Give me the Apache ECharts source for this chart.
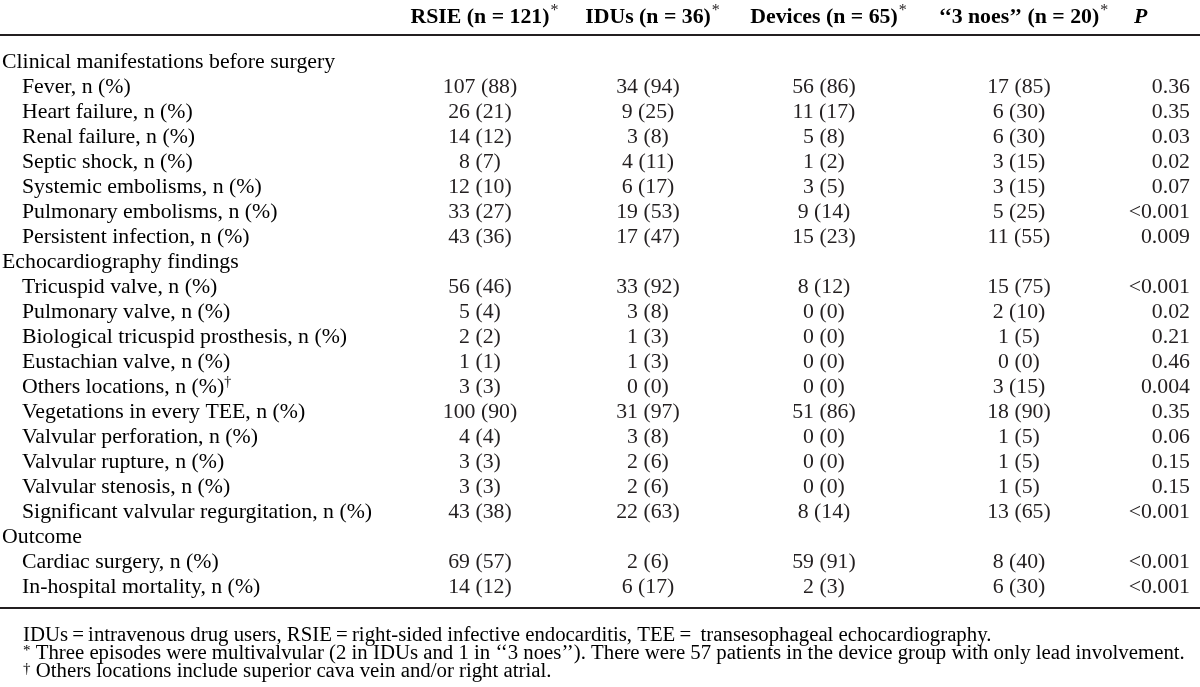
<!DOCTYPE html>
<html>
<head>
<meta charset="utf-8">
<script src="https://cdn.jsdelivr.net/npm/echarts@6/dist/echarts.min.js"></script>
<style>html,body{margin:0;padding:0;background:#fff;}#c{width:1200px;height:687px;}</style>
</head>
<body>
<div id="c"></div>
<script>
// ---- data ----
const headers = ['RSIE (n = 121)', 'IDUs (n = 36)', 'Devices (n = 65)', '\u2018\u20183 noes\u2019\u2019 (n = 20)'];
const pHeader = 'P';
const rowLabels = [
  'Clinical manifestations before surgery',
  'Fever, n (%)', 'Heart failure, n (%)', 'Renal failure, n (%)', 'Septic shock, n (%)',
  'Systemic embolisms, n (%)', 'Pulmonary embolisms, n (%)', 'Persistent infection, n (%)',
  'Echocardiography findings',
  'Tricuspid valve, n (%)', 'Pulmonary valve, n (%)', 'Biological tricuspid prosthesis, n (%)',
  'Eustachian valve, n (%)', 'Others locations, n (%)', 'Vegetations in every TEE, n (%)',
  'Valvular perforation, n (%)', 'Valvular rupture, n (%)', 'Valvular stenosis, n (%)',
  'Significant valvular regurgitation, n (%)',
  'Outcome',
  'Cardiac surgery, n (%)', 'In-hospital mortality, n (%)'
];
const rowMarks = ['', '', '', '', '', '', '', '', '', '', '', '', '', '\u2020', '', '', '', '', '', '', '', ''];
const rsieN   = [null,107,26,14,8,12,33,43,null,56,5,2,1,3,100,4,3,3,43,null,69,14];
const rsiePct = [null,88,21,12,7,10,27,36,null,46,4,2,1,3,90,4,3,3,38,null,57,12];
const idusN   = [null,34,9,3,4,6,19,17,null,33,3,1,1,0,31,3,2,2,22,null,2,6];
const idusPct = [null,94,25,8,11,17,53,47,null,92,8,3,3,0,97,8,6,6,63,null,6,17];
const devN    = [null,56,11,5,1,3,9,15,null,8,0,0,0,0,51,0,0,0,8,null,59,2];
const devPct  = [null,86,17,8,2,5,14,23,null,12,0,0,0,0,86,0,0,0,14,null,91,3];
const noesN   = [null,17,6,6,3,3,5,11,null,15,2,1,0,3,18,1,1,1,13,null,8,6];
const noesPct = [null,85,30,30,15,15,25,55,null,75,10,5,0,15,90,5,5,5,65,null,40,30];
const pValues = ['', '0.36','0.35','0.03','0.02','0.07','<0.001','0.009', '',
  '<0.001','0.02','0.21','0.46','0.004','0.35','0.06','0.15','0.15','<0.001', '',
  '<0.001','<0.001'];
const footnotes = [
  ['', 'IDUs\u2009=\u2009intravenous drug users, RSIE\u2009=\u2009right-sided infective endocarditis, TEE\u2009=\u2009 transesophageal echocardiography.'],
  ['*', 'Three episodes were multivalvular (2 in IDUs and 1 in \u2018\u20183 noes\u2019\u2019). There were 57 patients in the device group with only lead involvement.'],
  ['\u2020', 'Others locations include superior cava vein and/or right atrial.']
];

// ---- layout / style ----
const FONT = '"Liberation Serif", "Times New Roman", serif';
const INK = '#231f20';
const FS = 21.8;
const colX = [480, 648, 824, 1019];
const pRight = 1190;
const pHeaderX = 1134;
const sectionX = 2, itemX = 22;
const headerY = 17;
const topRuleY = 35, bottomRuleY = 608;
const footY = [636, 654, 672];
const FFS = 20.8;

const groups = [[rsieN, rsiePct], [idusN, idusPct], [devN, devPct], [noesN, noesPct]];
const data = rowLabels.map((l, i) => [0, i]);

const richBase = {
  a: { fontFamily: FONT, fontSize: FS, lineHeight: 24, color: INK },
  s: { fontFamily: FONT, fontSize: 14, lineHeight: 14, verticalAlign: 'top', color: INK }
};

function renderItem(params, api) {
  const i = api.value(1);
  const y = api.coord([0, i])[1];
  const children = [];
  const isSection = rsieN[i] === null;
  const lx = api.coord([isSection ? sectionX : itemX, i])[0];
  const mark = rowMarks[i];
  children.push({
    type: 'text',
    style: {
      x: lx, y: y,
      text: '{a|' + rowLabels[i] + '}' + (mark ? '{s|' + mark + '}' : ''),
      rich: richBase,
      align: 'left', verticalAlign: 'middle'
    }
  });
  if (!isSection) {
    groups.forEach((g, k) => {
      const x = api.coord([colX[k], i])[0];
      children.push({
        type: 'text',
        style: {
          x: x, y: y, text: g[0][i] + ' (' + g[1][i] + ')',
          font: FS + 'px ' + FONT, fill: INK,
          align: 'center', verticalAlign: 'middle'
        }
      });
    });
    children.push({
      type: 'text',
      style: {
        x: api.coord([pRight, i])[0], y: y, text: pValues[i],
        font: FS + 'px ' + FONT, fill: INK,
        align: 'right', verticalAlign: 'middle'
      }
    });
  }
  return { type: 'group', children: children };
}

const headRich = {
  b: { fontFamily: FONT, fontSize: FS, fontWeight: 'bold', lineHeight: 24, color: INK },
  p: { fontFamily: FONT, fontSize: FS, fontWeight: 'bold', fontStyle: 'italic', lineHeight: 24, color: INK }
};

const graphics = [];
headers.forEach((h, k) => {
  graphics.push({
    type: 'text', x: colX[k], y: headerY,
    style: { text: '{b|' + h + '}', rich: headRich, align: 'center', verticalAlign: 'middle' }
  });
});
graphics.push({
  type: 'text', x: pHeaderX, y: headerY,
  style: { text: '{p|' + pHeader + '}', rich: headRich, align: 'left', verticalAlign: 'middle' }
});
[topRuleY, bottomRuleY].forEach(yy => {
  graphics.push({ type: 'line', shape: { x1: 0, y1: yy, x2: 1200, y2: yy }, style: { stroke: INK, lineWidth: 2 } });
});
footnotes.forEach((f, k) => {
  graphics.push({
    type: 'text', x: 23, y: footY[k],
    style: {
      text: (f[0] ? '{s|' + f[0] + '}{f| ' + f[1] + '}' : '{f|' + f[1] + '}'),
      rich: {
        f: { fontFamily: FONT, fontSize: FFS, lineHeight: 21, color: INK },
        s: { fontFamily: FONT, fontSize: 15, lineHeight: 15, verticalAlign: 'top', color: INK }
      },
      align: 'left', verticalAlign: 'middle'
    }
  });
});

const chart = echarts.init(document.getElementById('c'), null, { renderer: 'canvas' });

// header asterisks: measure header width and append superscript star
function headerStars() {
  const out = [];
  const ctx = document.createElement('canvas').getContext('2d');
  ctx.font = 'bold ' + FS + 'px ' + FONT;
  headers.forEach((h, k) => {
    const w = ctx.measureText(h).width;
    out.push({
      type: 'text', x: colX[k] + w / 2 + 1, y: headerY - 6,
      style: { text: '*', font: '16px ' + FONT, fill: INK, align: 'left', verticalAlign: 'middle' }
    });
  });
  return out;
}

chart.setOption({
  animation: false,
  grid: { left: 0, right: 0, top: 49.5, height: 550 },
  xAxis: { type: 'value', min: 0, max: 1200, show: false },
  yAxis: { type: 'category', data: rowLabels, inverse: true, show: false },
  series: [{ type: 'custom', renderItem: renderItem, data: data, clip: false }],
  graphic: graphics.concat(headerStars())
});
</script>
</body>
</html>
